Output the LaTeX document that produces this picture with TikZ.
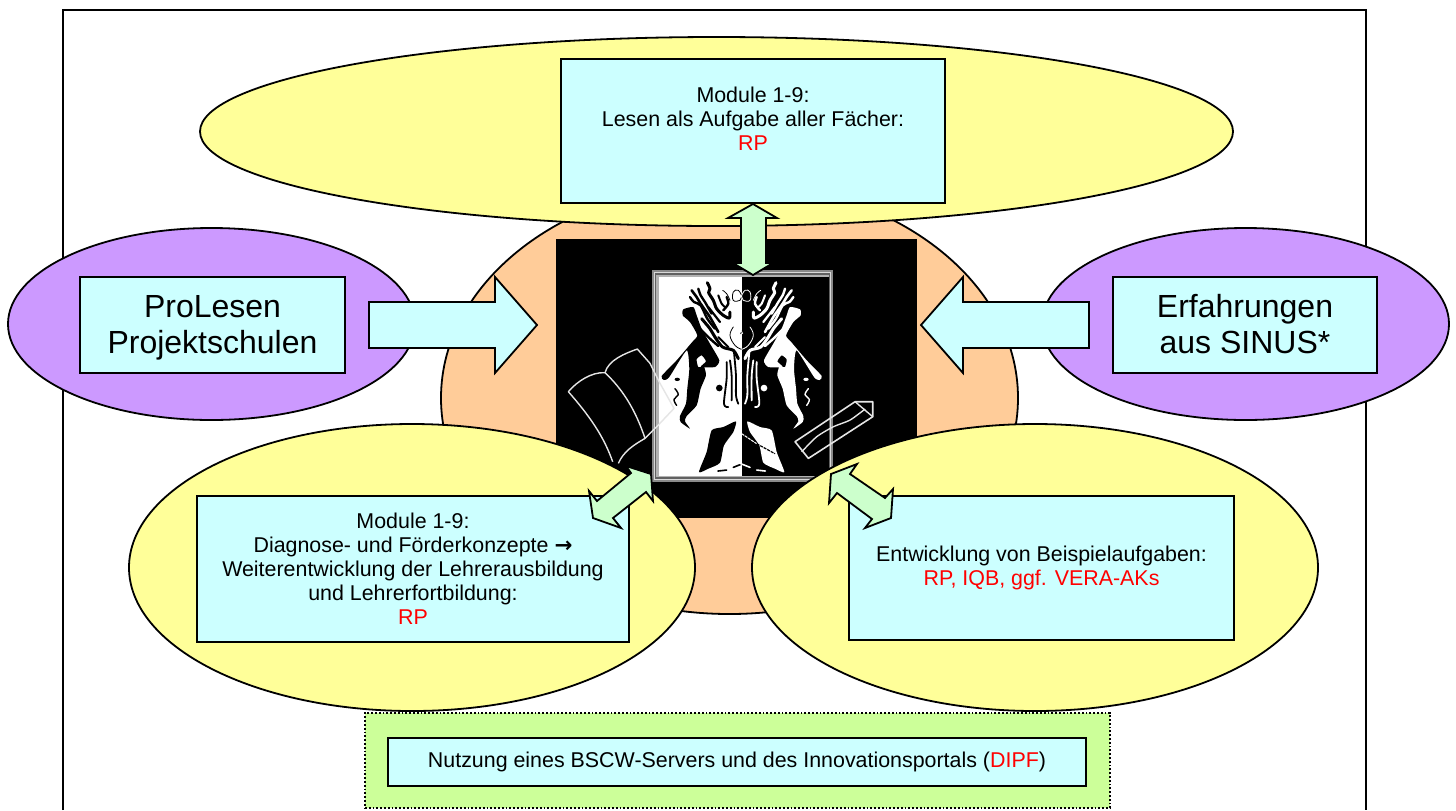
\documentclass[tikz,border=0pt]{standalone}
\usepackage{fontspec}
\setmainfont{Liberation Sans}
\newfontfamily\arrowfont{DejaVu Sans}
\usetikzlibrary{shapes.geometric}
\definecolor{yel}{HTML}{FFFF99}
\definecolor{ora}{HTML}{FFCC99}
\definecolor{pur}{HTML}{CC99FF}
\definecolor{cya}{HTML}{CCFFFF}
\definecolor{lgr}{HTML}{CCFFCC}
\definecolor{bgr}{HTML}{CCFF99}
\definecolor{fgrey}{HTML}{8A8A8A}
\newcommand\shp[7][]{%
  \pgfmathsetmacro\cxx{(#3+#5)/2}\pgfmathsetmacro\cyy{-(#4+#6)/2}%
  \pgfmathsetmacro\www{(#5-#3)*0.5}\pgfmathsetmacro\hhh{(#6-#4)*0.5}%
  \node[#1,minimum width=\www pt,minimum height=\hhh pt] (#2) at (\cxx,\cyy) {#7};}
\newcommand\redt[1]{\textcolor{red}{#1}}
\newcommand\tallstrut{\rule{0pt}{16.1pt}}
\newcommand\emblemhalf[1]{%
  \begin{scope}[draw=#1,fill=#1,line cap=round,line join=round]
    % head, face and neck
    \fill plot[smooth cycle,tension=0.35] coordinates {(150,105) (180,112) (182,130) (160,150) (138,190) (155,212) (200,265) (245,312) (238,324) (222,315) (170,235) (162,290) (168,350) (172,395) (190,432) (188,450) (160,470) (175,448) (170,432) (140,400) (128,350) (112,310) (118,285) (135,285) (140,262) (125,250) (112,268) (128,285) (85,285) (72,265) (100,215) (125,170) (140,130)};
    % hair
    \draw[line width=1.5pt] plot[smooth,tension=0.5] coordinates {(108,32) (100,50) (104,62) (90,85) (80,110) (60,130) (42,138) (40,120)};
    \draw[line width=1.3pt] plot[smooth,tension=0.5] coordinates {(155,55) (140,75) (130,92) (112,118) (100,135) (75,180)};
    \draw[line width=1.2pt] plot[smooth,tension=0.5] coordinates {(135,50) (128,70) (115,90) (95,125)};
    \draw[line width=1.2pt] plot[smooth,tension=0.5] coordinates {(160,75) (148,90) (128,100) (108,140) (85,170)};
    \draw[line width=1.2pt] plot[smooth,tension=0.5] coordinates {(135,165) (115,185) (100,200) (75,222)};
    \draw[line width=1.2pt] plot[smooth,tension=0.5] coordinates {(125,215) (100,225) (95,245)};
    \draw[line width=1.5pt] plot[smooth,tension=0.5] coordinates {(125,140) (100,170) (85,195) (62,225) (30,235) (15,260)};
    \draw[line width=1.2pt] plot[smooth,tension=0.5] coordinates {(60,115) (45,95) (50,75)};
    \draw[line width=1pt] plot[smooth,tension=0.5] coordinates {(75,70) (65,95) (55,105)};
    \draw[line width=1.1pt] (105,105) -- (70,150);
    \draw[line width=1pt] (75,195) -- (45,225);
    % fingers
    \draw[line width=0.9pt] plot[smooth,tension=0.5] coordinates {(28,240) (22,310) (22,370) (15,395)};
    \draw[line width=0.9pt] plot[smooth,tension=0.5] coordinates {(40,265) (35,310) (35,385)};
    \draw[line width=0.9pt] plot[smooth,tension=0.5] coordinates {(50,270) (50,320) (58,395) (45,405)};
    \fill (72,348) circle[radius=10];
    % swirls
    \draw[line width=0.4pt] plot[smooth,tension=0.7] coordinates {(3,75) (15,55) (30,60) (30,85) (10,85) (5,70)};
    \draw[line width=0.4pt] plot[smooth,tension=0.7] coordinates {(40,85) (50,65) (62,55)};
    \draw[line width=0.4pt] plot[smooth,tension=0.7] coordinates {(30,165) (40,190) (25,220) (5,232)};
    \draw[line width=0.4pt] (3,175) -- (8,185);
    % face details
    \fill (198,322) ellipse[x radius=8,y radius=5];
    \draw[line width=0.7pt] plot[smooth,tension=0.7] coordinates {(205,350) (195,368) (208,382) (200,400)};
    % lower body
    \fill plot[smooth cycle,tension=0.35] coordinates {(22,448) (60,465) (95,475) (110,540) (133,600) (105,590) (70,572) (58,520) (30,480)};
    \draw[line width=0.8pt] (0,574) -- (30,586);
    \draw[line width=0.8pt] (50,594) -- (76,597);
  \end{scope}}
\begin{document}
\begin{tikzpicture}[x=0.5pt,y=0.5pt,line width=0.9pt,
  ell/.style={ellipse,draw=black,inner sep=0pt},
  yell/.style={ell,fill=yel},
  pell/.style={ell,fill=pur},
  bx/.style={rectangle,draw=black,fill=cya,inner sep=0pt,align=center,font=\fontsize{10.7}{12}\selectfont},
  bigbx/.style={bx,font=\fontsize{16}{18}\selectfont},
  blockb/.style={draw=black,fill=cya,line join=miter},
  blockg/.style={draw=black,fill=lgr,line join=miter}]
\useasboundingbox (0,-810) rectangle (1456,0);
\fill[white] (0,-810) rectangle (1456,0);
\draw[line width=0.8pt] (63,-810) -- (63,-10) -- (1366,-10) -- (1366,-810);

\shp[ell,fill=ora]{core}{441}{182}{1018}{614}{}
\shp[rectangle,fill=black,inner sep=0pt,draw=none]{blk}{556}{239}{917}{518}{}

% emblem frame and panels
\begin{scope}[shift={(550,-200)},x=0.1667pt,y=-0.1667pt]
  \fill[fgrey] (305,210) rectangle (850,846);
  \fill[white!85!black] (311,216) rectangle (844,840);
  \fill[fgrey!70!black] (314,219) rectangle (841,837);
  \fill[white!70!black] (319,224) rectangle (836,832);
  \fill[white] (326,232) rectangle (575,827);
  \fill[black] (575,232) rectangle (836,827);
\end{scope}
\begin{scope}[shift={(743.3,-272)},x=-0.1667pt,y=-0.1667pt]
  \emblemhalf{black}
\end{scope}
\begin{scope}[shift={(740,-272)},x=0.1667pt,y=-0.1667pt]
  \emblemhalf{white}
  \draw[white,line width=0.5pt,dash pattern=on 1.5pt off 0.4pt] (5,485) -- (50,515);
  \draw[black,line width=0.6pt,dash pattern=on 1.5pt off 0.5pt] (50,515) -- (105,545);
\end{scope}
\begin{scope}[shift={(550,-200)},x=0.1667pt,y=-0.1667pt]
  \draw[white!90!black,line width=0.7pt,line join=round]
    (188,785) .. controls (165,720) and (130,660) .. (55,575) .. controls (80,545) and (125,515) .. (165,518) .. controls (175,480) and (225,460) .. (262,447) -- (300,490) -- (330,550) -- (372,625) -- (320,680) -- (285,715) .. controls (250,735) and (220,755) .. (205,790);
  \draw[white!90!black,line width=0.7pt] (165,518) .. controls (215,565) and (255,625) .. (285,715);
  \draw[white!90!black,line width=0.8pt,line join=round]
    (735,725) -- (915,605) -- (968,605) -- (968,650) -- (775,775) -- cycle;
  \draw[white!90!black,line width=0.7pt] (915,605) -- (968,650);
  \draw[white!90!black,line width=0.7pt] plot[smooth,tension=0.4] coordinates {(755,755) (800,710) (850,680) (900,660) (945,627)};
\end{scope}

\shp[yell]{top}{200}{37}{1233}{226}{}
\shp[pell]{pl}{8}{228}{415}{420}{}
\shp[pell]{pr}{1042}{228}{1449}{420}{}
\shp[yell]{bl}{129}{424}{695}{711}{}
\shp[yell]{br}{752}{424}{1318}{711}{}

\shp[bx]{ttop}{561}{59}{945}{203}{Module 1-9:\\Lesen als Aufgabe aller Fächer:\\\redt{RP}\\\mbox{}}
\shp[bigbx]{tl}{80}{277}{345}{373}{\tallstrut ProLesen\\\strut Projektschulen}
\shp[bigbx]{tr}{1113}{277}{1377}{373}{\tallstrut Erfahrungen\\\strut aus SINUS*}
\shp[bx]{tbl}{197}{496}{629}{642}{Module 1-9:\\Diagnose- und Förderkonzepte {\arrowfont\bfseries →}\\Weiterentwicklung der Lehrerausbildung\\und Lehrerfortbildung:\\\redt{RP}}
\shp[bx]{tbr}{849}{496}{1234}{640}{Entwicklung von Beispielaufgaben:\\\redt{RP, IQB, ggf. VERA-AKs}}
\shp[rectangle,draw=black,densely dotted,fill=bgr]{grn}{365}{713}{1110}{808}{}
\shp[bx]{srv}{388}{738}{1086}{786}{Nutzung eines BSCW-Servers und des Innovationsportals (\redt{DIPF})}

% block arrows
\draw[blockb] (369,-302) -- (495,-302) -- (495,-277) -- (537,-325) -- (495,-373) -- (495,-348) -- (369,-348) -- cycle;
\draw[blockb] (1089,-302) -- (963,-302) -- (963,-277) -- (921,-325) -- (963,-373) -- (963,-348) -- (1089,-348) -- cycle;
\draw[blockg] (753,-204) -- (777,-218) -- (766,-218) -- (766,-263) -- (773,-263) -- (753,-275) -- (733,-263) -- (741,-263) -- (741,-218) -- (728,-218) -- cycle;
\draw[blockg] (626,-466) -- (651,-474) -- (653,-501) -- (646,-492) -- (613,-518) -- (621,-528) -- (593,-518) -- (589,-491) -- (597,-501) -- (631,-473) -- cycle;
\draw[blockg] (857,-464) -- (831,-474) -- (829,-503) -- (837,-493) -- (872,-519) -- (865,-528) -- (891,-518) -- (893,-489) -- (885,-498) -- (850,-474) -- cycle;
\end{tikzpicture}
\end{document}
